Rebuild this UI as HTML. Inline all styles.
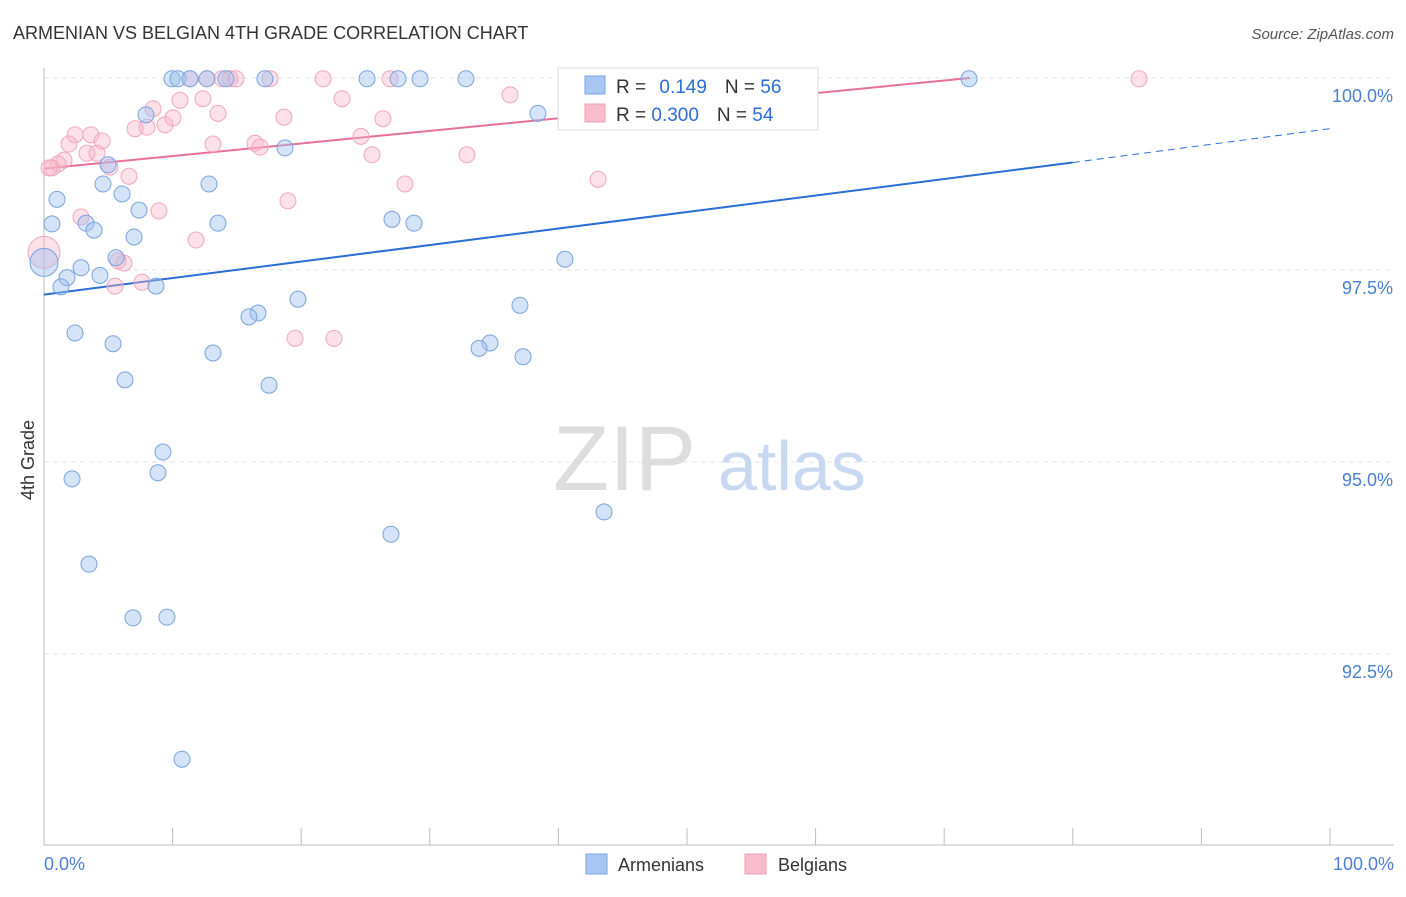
<!DOCTYPE html>
<html><head><meta charset="utf-8"><style>
body{margin:0;background:#fff;font-family:"Liberation Sans",sans-serif;}
svg text{font-family:"Liberation Sans",sans-serif;}
</style></head><body>
<svg id="chart" width="1406" height="892" viewBox="0 0 1406 892">
<text x="13" y="39" font-size="18" fill="#333">ARMENIAN VS BELGIAN 4TH GRADE CORRELATION CHART</text>
<text x="1394" y="39" font-size="15" fill="#555" font-style="italic" text-anchor="end">Source: ZipAtlas.com</text>
<text x="34" y="460" font-size="18" fill="#333" transform="rotate(-90 34 460)" text-anchor="middle">4th Grade</text>
<g id="grid"></g>
<g><text x="553" y="490" font-size="92" fill="#ddd" font-family="Liberation Serif">ZIP</text><text x="718" y="490" font-size="70" fill="#c8d8f0">atlas</text></g>
<g id="lines"></g>
<g id="points"></g>
<g>
<rect x="558" y="68" width="260" height="62" fill="#fff" stroke="#ddd"/>
<rect x="585" y="76" width="20" height="18" fill="#a8c6f2" stroke="#7aa3e0"/>
<text x="616" y="93" font-size="19" fill="#333">R = <tspan fill="#2a6dd4" dx="8">0.149</tspan><tspan dx="18">N = </tspan><tspan fill="#2a6dd4">56</tspan></text>
<rect x="585" y="104" width="20" height="18" fill="#f8bccd" stroke="#f0a0b8"/>
<text x="616" y="121" font-size="19" fill="#333">R = <tspan fill="#2a6dd4">0.300</tspan><tspan dx="18">N = </tspan><tspan fill="#2a6dd4">54</tspan></text>
</g>
<g>
<rect x="586" y="854" width="21" height="20" fill="#a8c6f2" stroke="#7aa3e0"/>
<text x="618" y="871" font-size="18" fill="#333">Armenians</text>
<rect x="745" y="854" width="21" height="20" fill="#f8bccd" stroke="#f0a0b8"/>
<text x="778" y="871" font-size="18" fill="#333">Belgians</text>
</g>
</svg>
<script>
const yTicks=[100,97.5,95,92.5];
const yTickLabels=["100.0%","97.5%","95.0%","92.5%"];
const xTickLabels=["0.0%","100.0%"];
const blueX=[9.95,10.42,11.35,12.67,14.15,17.18,25.12,27.53,29.24,32.81,71.93,38.41,7.93,18.74,4.98,4.59,12.83,1.01,6.07,7.39,0.62,3.27,3.89,13.53,27.06,28.77,7.00,40.51,5.60,0,2.88,1.79,4.35,1.32,8.71,19.75,37.01,16.64,15.94,2.41,5.37,34.68,33.83,13.14,37.25,6.30,17.50,9.25,8.86,2.18,43.55,26.98,3.50,6.92,9.56,10.73];
const blueY=[99.99,99.99,99.99,99.99,99.99,99.99,99.99,99.99,99.99,99.99,99.99,99.54,99.52,99.09,98.87,98.62,98.62,98.42,98.49,98.28,98.10,98.11,98.02,98.11,98.16,98.11,97.93,97.64,97.66,97.60,97.53,97.40,97.43,97.28,97.29,97.12,97.04,96.94,96.89,96.68,96.54,96.55,96.48,96.42,96.37,96.07,96.00,95.13,94.86,94.78,94.35,94.06,93.67,92.97,92.98,91.13];
const pinkX=[11.35,12.67,13.84,14.46,14.93,17.57,21.70,26.91,43.55,52.10,85.15,10.58,8.48,12.36,23.17,36.24,13.53,10.03,18.66,26.36,9.41,7.08,8.01,2.41,3.65,24.65,4.51,1.94,13.14,16.41,16.80,3.34,4.12,25.51,32.89,1.56,1.09,0.62,5.13,6.61,43.08,28.07,18.97,8.94,2.88,11.82,0,6.22,5.75,7.62,5.52,19.52,22.55,0.39];
const pinkY=[99.99,99.99,99.99,99.99,99.99,99.99,99.99,99.99,99.99,99.99,99.99,99.71,99.60,99.73,99.73,99.78,99.54,99.48,99.49,99.47,99.39,99.34,99.36,99.26,99.26,99.24,99.18,99.14,99.14,99.15,99.10,99.02,99.02,99.00,99.00,98.93,98.88,98.83,98.84,98.72,98.68,98.62,98.40,98.27,98.19,97.89,97.73,97.59,97.62,97.34,97.29,96.61,96.61,98.83];
const blueTrend=[97.18,98.90,99.34];
const pinkTrend=[98.82,100.0];
const NS="http://www.w3.org/2000/svg";
const sx=v=>44+v*12.86;
const sy=v=>78+(100-v)*76.8;
function mk(tag,attrs,parent){const e=document.createElementNS(NS,tag);for(const k in attrs)e.setAttribute(k,attrs[k]);parent.appendChild(e);return e;}
const grid=document.getElementById('grid');
yTicks.forEach((t,i)=>{
 const l=mk('line',{x1:44,x2:1394,y1:sy(t),y2:sy(t),stroke:'#e3e3e3','stroke-dasharray':'5,4'},grid);
 
 
 const tx=mk('text',{x:1393,y:sy(t)+24,'font-size':18,fill:'#4a7fd6','text-anchor':'end'},grid);
 tx.textContent=yTickLabels[i];
 
 
});
const ax=mk('line',{x1:44,x2:44,y1:68,y2:845,stroke:'#bbb'},grid);


const bx=mk('line',{x1:44,x2:1394,y1:845,y2:845,stroke:'#bbb'},grid);


for(let i=0;i<=10;i++){const t=mk('line',{x1:sx(i*10),x2:sx(i*10),y1:828,y2:845,stroke:'#bbb'},grid);
 
 }
[[0,'start',44],[100,'end',1394]].forEach((d,i)=>{const t=mk('text',{x:d[2],y:870,'font-size':18,fill:'#4a7fd6','text-anchor':d[1]},grid);t.textContent=xTickLabels[i];
 
 });
const pts=document.getElementById('points');
pinkX.forEach((x,i)=>{const r=(x===0)?16:8;const c=mk('circle',{cx:sx(x),cy:sy(pinkY[i]),r:r,fill:'rgba(248,180,200,0.4)',stroke:'#f2a6bd','stroke-width':1},pts);
 
 });
blueX.forEach((x,i)=>{const r=(x===0)?14:8;const c=mk('circle',{cx:sx(x),cy:sy(blueY[i]),r:r,fill:'rgba(160,192,240,0.45)',stroke:'#7aa3e0','stroke-width':1},pts);
 
 });
const ln=document.getElementById('lines');
const b1=mk('line',{x1:sx(0),y1:sy(blueTrend[0]),x2:sx(80),y2:sy(blueTrend[1]),stroke:'#2a6dd4','stroke-width':2},ln);


const b2=mk('line',{x1:sx(80),y1:sy(blueTrend[1]),x2:sx(100),y2:sy(blueTrend[2]),stroke:'#2a6dd4','stroke-width':1,'stroke-dasharray':'7,5'},ln);


const p1=mk('line',{x1:sx(0),y1:sy(pinkTrend[0]),x2:sx(72),y2:sy(pinkTrend[1]),stroke:'#e8709a','stroke-width':2},ln);


</script>
</body></html>
